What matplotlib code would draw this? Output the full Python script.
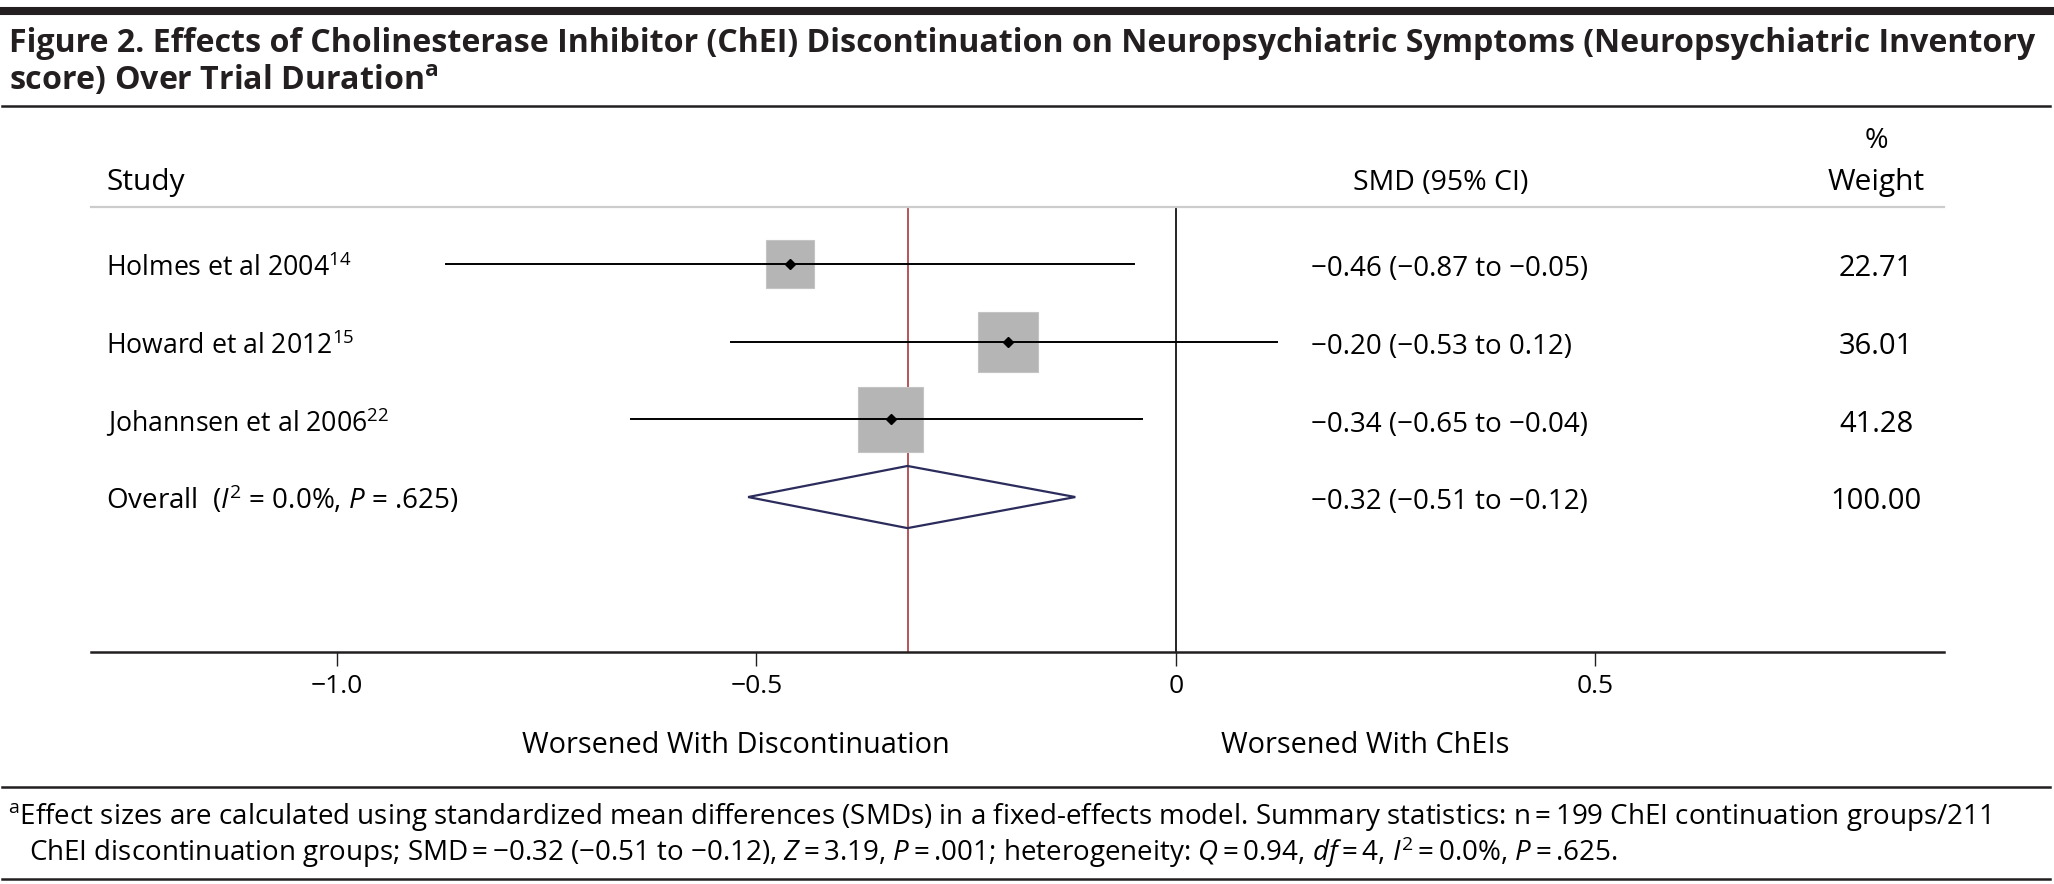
import matplotlib
matplotlib.use("Agg")
from matplotlib import pyplot as plt
from matplotlib.patches import Rectangle, Polygon
from matplotlib.lines import Line2D

# data
studies = ["Holmes et al 2004$^{14}$", "Howard et al 2012$^{15}$", "Johannsen et al 2006$^{22}$"]
smd = [-0.46, -0.20, -0.34]
ci_low = [-0.87, -0.53, -0.65]
ci_high = [-0.05, 0.12, -0.04]
weights = [22.71, 36.01, 41.28]
smd_labels = ["\u22120.46 (\u22120.87 to \u22120.05)", "\u22120.20 (\u22120.53 to 0.12)",
              "\u22120.34 (\u22120.65 to \u22120.04)"]
overall_smd = -0.32
overall_low = -0.51
overall_high = -0.12
overall_label = "\u22120.32 (\u22120.51 to \u22120.12)"
overall_weight = 100.00
xticks = [-1.0, -0.5, 0, 0.5]
xtick_labels = ["\u22121.0", "\u22120.5", "0", "0.5"]

FONT = ["Open Sans", "DejaVu Sans"]
plt.rcParams["font.family"] = FONT
plt.rcParams["mathtext.fontset"] = "custom"
plt.rcParams["mathtext.rm"] = "Open Sans"
plt.rcParams["mathtext.it"] = "Open Sans:italic"
plt.rcParams["mathtext.bf"] = "Open Sans:bold"

W, H = 2054, 884
fig = plt.figure(figsize=(W / 100, H / 100), dpi=100)


def fx(px):
    return px / W


def fy(py):
    return 1 - py / H


dark = "#231f20"
fs = 20
fs_head = 20.5

# rules
for y, lw in [(11, 5.8), (106, 1.8), (787, 1.8), (879, 1.8)]:
    fig.add_artist(Line2D([fx(2), fx(2050)], [fy(y), fy(y)], color=dark, lw=lw))
fig.add_artist(Line2D([fx(91), fx(1944)], [fy(207), fy(207)], color="#cccccc", lw=1.6))

# title
fig.text(fx(9), fy(52), "Figure 2. Effects of Cholinesterase Inhibitor (ChEI) Discontinuation on "
         "Neuropsychiatric Symptoms (Neuropsychiatric Inventory",
         fontsize=23.1, fontweight="bold", color=dark, va="baseline")
fig.text(fx(9), fy(90), "score) Over Trial Duration$^{\\mathbf{a}}$",
         fontsize=23.1, fontweight="bold", color=dark, va="baseline")

# axes
ax = fig.add_axes([fx(91), fy(652), fx(1944) - fx(91), fy(207) - fy(652)])
ax.set_xlim(-1.2932, 0.9154)
ax.set_ylim(-0.995, 4.734)
rows = [4, 3, 2]
ppx = 839.0
ppy = 77.7

ax.axvline(0, color="black", lw=1.2, zorder=1)
ax.axvline(overall_smd, color="#a3262c", lw=1.1, zorder=1)

for yv, m, lo, hi, w in zip(rows, smd, ci_low, ci_high, weights):
    side = 10.05 * w ** 0.5
    ax.add_patch(Rectangle((m - side / ppx / 2, yv - side / ppy / 2), side / ppx, side / ppy,
                           facecolor="#b5b5b5", edgecolor="#c4c4c4", lw=0.8, zorder=2))
    ax.plot([lo, hi], [yv, yv], color="black", lw=1.4, zorder=3)
    ax.plot([m], [yv], marker="D", color="black", markersize=5, zorder=4)

ax.add_patch(Polygon([(overall_low, 1), (overall_smd, 1.4), (overall_high, 1), (overall_smd, 0.6)],
                     closed=True, facecolor="none", edgecolor="#2b2c5c", lw=1.6, zorder=3))

for s in ["top", "left", "right"]:
    ax.spines[s].set_visible(False)
ax.spines["bottom"].set_linewidth(1.8)
ax.spines["bottom"].set_color(dark)
ax.set_yticks([])
ax.set_xticks(xticks)
ax.set_xticklabels(xtick_labels, fontsize=19)
ax.tick_params(axis="x", length=10, width=1, color=dark, pad=6)
ax.patch.set_visible(False)

# headers
fig.text(fx(106), fy(190), "Study", fontsize=fs_head + 1, va="baseline")
fig.text(fx(1441), fy(190), "SMD (95% CI)", fontsize=fs_head, va="baseline", ha="center")
fig.text(fx(1876), fy(190), "Weight", fontsize=fs_head + 1, va="baseline", ha="center")
fig.text(fx(1876), fy(148), "%", fontsize=fs_head, va="baseline", ha="center")

row_px = [264, 342, 420]
for py, name, lab, w in zip(row_px, studies, smd_labels, weights):
    fig.text(fx(106), fy(py + 12), name, fontsize=19.2, va="baseline")
    fig.text(fx(1311), fy(py + 12), lab, fontsize=fs, va="baseline")
    fig.text(fx(1876), fy(py + 12), f"{w:.2f}", fontsize=fs + 1, va="baseline", ha="center")

fig.text(fx(106), fy(509), "Overall  ($\\mathit{I}^{\\mathrm{2}}$ = 0.0%, $\\mathit{P}$ = .625)",
         fontsize=fs, va="baseline")
fig.text(fx(1311), fy(509), overall_label, fontsize=fs, va="baseline")
fig.text(fx(1876), fy(509), f"{overall_weight:.2f}", fontsize=fs + 1, va="baseline", ha="center")

fig.text(fx(736), fy(753), "Worsened With Discontinuation", fontsize=20.8, va="baseline", ha="center")
fig.text(fx(1365), fy(753), "Worsened With ChEIs", fontsize=20.8, va="baseline", ha="center")

# footnote
fig.text(fx(8), fy(824), "$^{\\mathrm{a}}$Effect sizes are calculated using standardized mean differences "
         "(SMDs) in a fixed-effects model. Summary statistics: n\u2009=\u2009199 ChEI continuation groups/211",
         fontsize=20, va="baseline", family=FONT)
fig.text(fx(29), fy(861), "ChEI discontinuation groups; SMD\u2009=\u2009\u22120.32 (\u22120.51 to \u22120.12), "
         "$\\mathit{Z}$\u2009=\u20093.19, $\\mathit{P}$\u2009=\u2009.001; heterogeneity: "
         "$\\mathit{Q}$\u2009=\u20090.94, $\\mathit{df}$\u2009=\u20094, $\\mathit{I}^{\\mathrm{2}}$\u2009=\u20090.0%, "
         "$\\mathit{P}$\u2009=\u2009.625.",
         fontsize=20, va="baseline", family=FONT)

fig.savefig("out.png", dpi=100)
